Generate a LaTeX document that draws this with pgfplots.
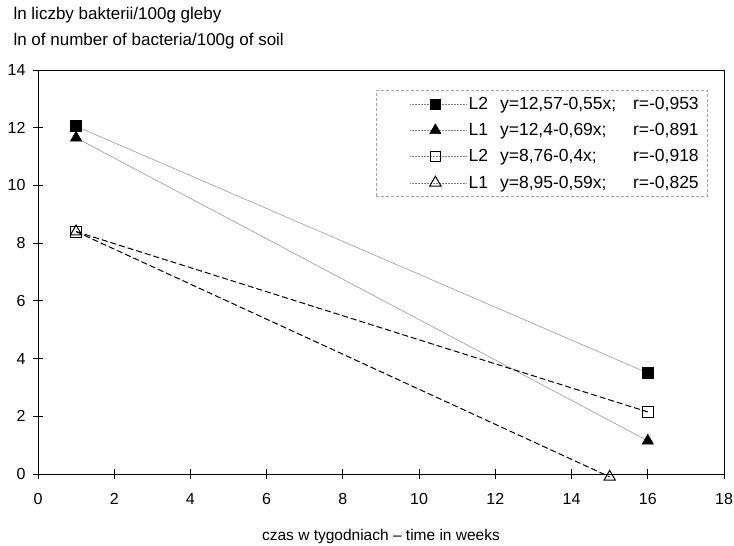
\documentclass[border=0pt]{standalone}
\usepackage{fontspec}
\setmainfont{Liberation Sans}
\usepackage{pgfplots}
\pgfplotsset{compat=1.18}
\begin{document}
\begin{tikzpicture}
\begin{axis}[
  name=ax,
  scale only axis, width=686pt, height=404pt,
  xmin=0, xmax=18, ymin=0, ymax=14,
  xtick={0,2,...,18}, ytick={0,2,...,14},
  xtick pos=bottom, ytick pos=left,
  tick align=center, major tick length=10pt,
  tick style={black, line width=0.8pt},
  axis line style={line width=0.8pt},
  /pgf/number format/assume math mode=true,
  ticklabel style={font=\fontsize{16}{18}\selectfont},
  xticklabel style={yshift=-11pt},
  yticklabel style={xshift=-4pt},
  xlabel={czas w tygodniach -- time in weeks},
  xlabel style={font=\fontsize{15.5}{17}\selectfont, yshift=-18pt},
  legend cell align=left,
  legend style={at={(rel axis cs:1,1)}, anchor=north east, xshift=-17pt, yshift=-20pt,
    draw=gray!70, dash pattern=on 3pt off 2pt, line width=0.5pt,
    font=\fontsize{17.5}{19}\selectfont, row sep=8.5pt, inner xsep=6pt, inner ysep=5pt},
  legend image code/.code={\path (-28pt,0pt); \draw[mark repeat=2,mark phase=2,#1] plot coordinates {(0pt,0pt) (25pt,0pt) (56pt,0pt)};},
  clip=false,
]
% legend images
\addlegendimage{gray, densely dotted, line width=0.5pt, mark=square*, mark size=5pt, mark options={solid, black, fill=black}}
\addlegendentry{L2\hspace{12pt}\makebox[133pt][l]{y=12,57-0,55x;}r=-0,953}
\addlegendimage{gray, densely dotted, line width=0.5pt, mark=triangle*, mark size=6.5pt, mark options={solid, black, fill=black}}
\addlegendentry{L1\hspace{12pt}\makebox[133pt][l]{y=12,4-0,69x;}r=-0,891}
\addlegendimage{gray, densely dotted, line width=0.5pt, mark=square, mark size=5pt, mark options={solid, black, fill=white, line width=1pt}}
\addlegendentry{L2\hspace{12pt}\makebox[133pt][l]{y=8,76-0,4x;}r=-0,918}
\addlegendimage{gray, densely dotted, line width=0.5pt, mark=triangle, mark size=6.5pt, mark options={solid, black, fill=white, line width=1pt}}
\addlegendentry{L1\hspace{12pt}\makebox[133pt][l]{y=8,95-0,59x;}r=-0,825}
% data
\addplot[forget plot, gray!80, line width=0.6pt, mark=square*, mark size=5.5pt, mark options={black, fill=black}]
  coordinates {(1,12.05) (16,3.5)};
\addplot[forget plot, gray!80, line width=0.6pt, mark=triangle*, mark size=6.5pt, mark options={black, fill=black}]
  coordinates {(1,11.65) (16,1.15)};
\addplot[forget plot, black, line width=1pt, dash pattern=on 6pt off 3pt, mark=square, mark size=5.5pt, mark options={solid, black, fill=white, line width=1pt}]
  coordinates {(1,8.4) (16,2.15)};
\addplot[forget plot, black, line width=1pt, dash pattern=on 6pt off 3pt, mark=triangle, mark size=6.5pt, mark options={solid, black, fill=white, line width=1pt}]
  coordinates {(1,8.4) (15,-0.1)};
\node[anchor=base west, font=\fontsize{17}{19}\selectfont] at ([xshift=-28pt, yshift=24pt]rel axis cs:0,1) {ln of number of bacteria/100g of soil};
\node[anchor=base west, font=\fontsize{17}{19}\selectfont] at ([xshift=-28pt, yshift=50pt]rel axis cs:0,1) {ln liczby bakterii/100g gleby};
\end{axis}
\pgfresetboundingbox
\path[use as bounding box] ([xshift=-38pt, yshift=-72pt]ax.south west) rectangle ([xshift=10pt, yshift=70pt]ax.north east);
\end{tikzpicture}
\end{document}
